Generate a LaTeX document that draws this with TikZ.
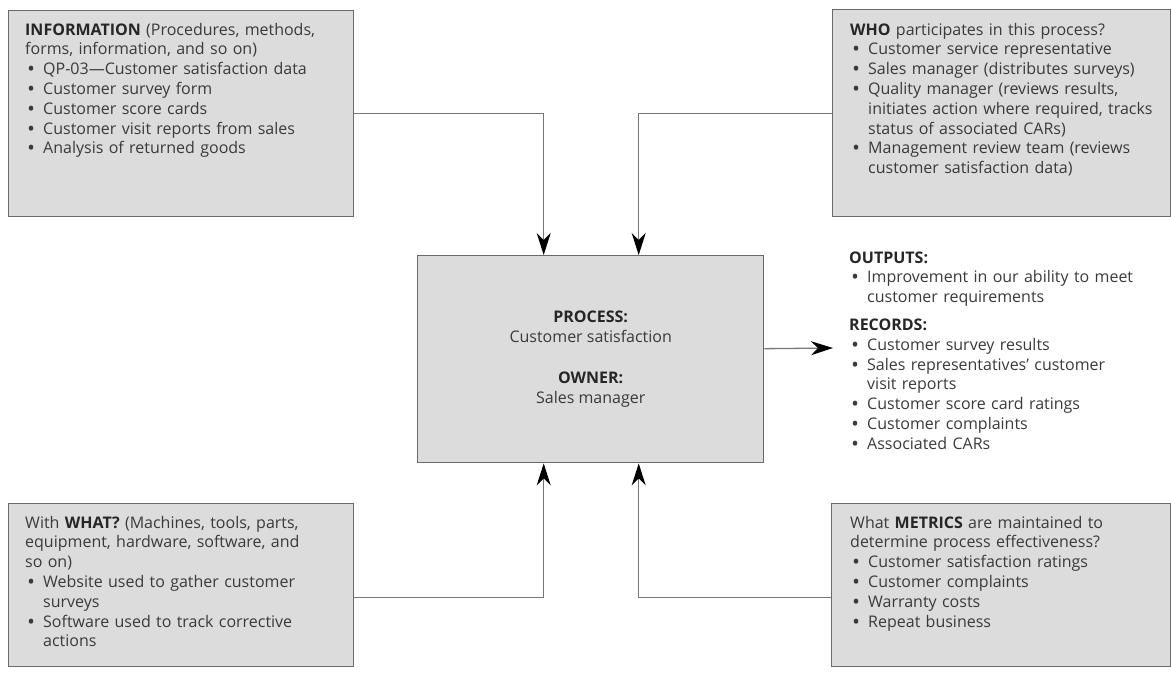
\documentclass[tikz,border=0pt]{standalone}
\usepackage{fontspec}
\setmainfont{Open Sans}
\usetikzlibrary{arrows.meta}

\definecolor{boxfill}{HTML}{DCDCDC}
\definecolor{boxline}{HTML}{6A6A6A}
\definecolor{ink}{HTML}{3A3A3A}
\definecolor{wirecol}{HTML}{777777}

% bullet line and continuation line inside a text block
\newcommand\bl{\par\noindent\makebox[18pt][l]{\hspace{3pt}\textbf{\textbullet}}}
\newcommand\cl{\par\noindent\hspace*{18pt}}
\newcommand\hd[1]{\textbf{\color{black!85}#1}}

\begin{document}
\begin{tikzpicture}[x=1pt,y=-1pt,
  panel/.style={draw=boxline, fill=boxfill, line width=1.4pt, rectangle,
                inner sep=0pt, anchor=north west},
  txt/.style={anchor=base west, inner sep=0pt, text width=#1, align=left,
              text=ink, font=\fontsize{16}{19.8}\selectfont},
  txt/.default=319pt,
  ctr/.style={inner sep=0pt, align=center, text=ink,
              font=\fontsize{16}{19.8}\selectfont},
  wire/.style={draw=wirecol, line width=1.3pt},
  tip/.style={-{Stealth[length=22pt,width=14pt,inset=7pt,black]}}
]
\useasboundingbox (0,0) rectangle (1171,675);

% boxes
\node[panel, minimum width=345pt, minimum height=206pt] (info) at (8,10) {};
\node[panel, minimum width=338pt, minimum height=207pt] (who) at (832,9) {};
\node[panel, minimum width=346pt, minimum height=207pt] (proc) at (417,255) {};
\node[panel, minimum width=345pt, minimum height=163pt] (what) at (8,503) {};
\node[panel, minimum width=339pt, minimum height=163pt] (metrics) at (831,503) {};

% texts
\node[txt] (infotxt) at (25,35) {\noindent\hd{INFORMATION} (Procedures, methods,\par\noindent forms, information, and so on)
\bl QP-03—Customer satisfaction data
\bl Customer survey form
\bl Customer score cards
\bl Customer visit reports from sales
\bl Analysis of returned goods};

\node[txt] (whotxt) at (850,35) {\noindent\hd{WHO} participates in this process?
\bl Customer service representative
\bl Sales manager (distributes surveys)
\bl Quality manager (reviews results,
\cl initiates action where required, tracks
\cl status of associated CARs)
\bl Management review team (reviews
\cl customer satisfaction data)};

\node[ctr] (proctxt) at (proc.center) {\hd{PROCESS:}\\Customer satisfaction\\[21pt]\hd{OWNER:}\\Sales manager};

\node[txt] (outtxt) at (849,263) {\noindent\hd{OUTPUTS:}
\bl Improvement in our ability to meet
\cl customer requirements
\par\vspace{8pt}\noindent\hd{RECORDS:}
\bl Customer survey results
\bl Sales representatives’ customer
\cl visit reports
\bl Customer score card ratings
\bl Customer complaints
\bl Associated CARs};

\node[txt] (whattxt) at (25,528) {\noindent With \hd{WHAT?} (Machines, tools, parts,\par\noindent equipment, hardware, software, and\par\noindent so on)
\bl Website used to gather customer
\cl surveys
\bl Software used to track corrective
\cl actions};

\node[txt] (mettxt) at (850,528) {\noindent What \hd{METRICS} are maintained to\par\noindent determine process effectiveness?
\bl Customer satisfaction ratings
\bl Customer complaints
\bl Warranty costs
\bl Repeat business};

% connectors
\coordinate (outtip) at (833,348);
\draw[wire, tip] (info.east) -| ([xshift=-47pt]proc.north);
\draw[wire, tip] (who.west) -| ([xshift=48pt]proc.north);
\draw[wire, tip] ([yshift=-12.5pt]what.east) -| ([xshift=-47pt]proc.south);
\draw[wire, tip] ([yshift=-12.5pt]metrics.west) -| ([xshift=48pt]proc.south);
\draw[wire, tip] ([yshift=10.5pt]proc.east) -- (outtip);
\end{tikzpicture}
\end{document}
